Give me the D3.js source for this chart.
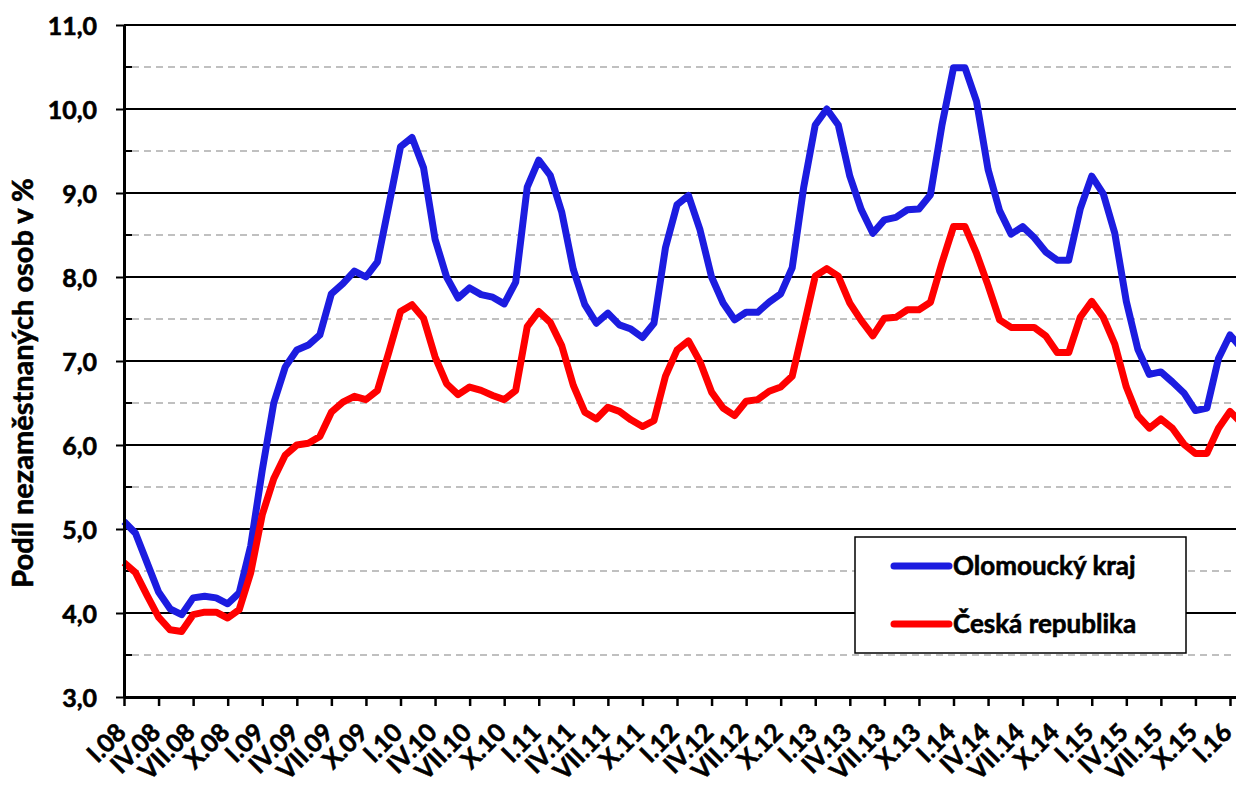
<!DOCTYPE html>
<html><head><meta charset="utf-8">
<script src="https://cdn.jsdelivr.net/npm/d3@7"></script>
<style>
body{margin:0;background:#fff;}
svg{display:block;}
text{font-family:Lato,"Open Sans",sans-serif;font-weight:bold;fill:#000;stroke:#000;stroke-width:0.6px;}
</style></head><body>
<svg id="c" width="1236" height="785"></svg>
<script>
// ---- DATA ----
const months = [
 "I.08","II.08","III.08","IV.08","V.08","VI.08","VII.08","VIII.08","IX.08","X.08","XI.08","XII.08",
 "I.09","II.09","III.09","IV.09","V.09","VI.09","VII.09","VIII.09","IX.09","X.09","XI.09","XII.09",
 "I.10","II.10","III.10","IV.10","V.10","VI.10","VII.10","VIII.10","IX.10","X.10","XI.10","XII.10",
 "I.11","II.11","III.11","IV.11","V.11","VI.11","VII.11","VIII.11","IX.11","X.11","XI.11","XII.11",
 "I.12","II.12","III.12","IV.12","V.12","VI.12","VII.12","VIII.12","IX.12","X.12","XI.12","XII.12",
 "I.13","II.13","III.13","IV.13","V.13","VI.13","VII.13","VIII.13","IX.13","X.13","XI.13","XII.13",
 "I.14","II.14","III.14","IV.14","V.14","VI.14","VII.14","VIII.14","IX.14","X.14","XI.14","XII.14",
 "I.15","II.15","III.15","IV.15","V.15","VI.15","VII.15","VIII.15","IX.15","X.15","XI.15","XII.15",
 "I.16","II.16"
];
const tickLabels = [
 "I.08","IV.08","VII.08","X.08","I.09","IV.09","VII.09","X.09","I.10","IV.10","VII.10","X.10",
 "I.11","IV.11","VII.11","X.11","I.12","IV.12","VII.12","X.12","I.13","IV.13","VII.13","X.13",
 "I.14","IV.14","VII.14","X.14","I.15","IV.15","VII.15","X.15","I.16"
];
const olomouckyKraj = [
 5.09,4.95,4.60,4.25,4.05,3.98,4.18,4.20,4.18,4.11,4.24,4.80,
 5.70,6.50,6.93,7.13,7.19,7.31,7.80,7.92,8.07,8.00,8.18,8.86,
 9.55,9.66,9.30,8.45,8.00,7.75,7.87,7.79,7.76,7.68,7.94,9.07,
 9.39,9.21,8.77,8.09,7.67,7.45,7.57,7.43,7.38,7.28,7.45,8.35,
 8.86,8.97,8.56,8.00,7.69,7.49,7.58,7.58,7.70,7.80,8.11,9.07,
 9.81,10.00,9.81,9.20,8.80,8.52,8.68,8.71,8.80,8.81,8.98,9.81,
 10.49,10.49,10.09,9.28,8.79,8.51,8.60,8.47,8.30,8.20,8.20,8.81,
 9.20,8.99,8.52,7.71,7.14,6.84,6.87,6.75,6.62,6.41,6.44,7.03,
 7.31,7.15
];
const ceskaRepublika = [
 4.60,4.48,4.21,3.95,3.80,3.78,3.98,4.01,4.01,3.94,4.04,4.48,
 5.17,5.60,5.88,6.00,6.02,6.10,6.39,6.51,6.58,6.54,6.65,7.11,
 7.59,7.67,7.51,7.05,6.73,6.60,6.69,6.65,6.59,6.54,6.65,7.41,
 7.59,7.46,7.18,6.71,6.39,6.31,6.45,6.40,6.30,6.22,6.29,6.82,
 7.13,7.24,6.99,6.63,6.44,6.35,6.52,6.54,6.64,6.69,6.82,7.41,
 8.01,8.10,8.01,7.69,7.48,7.30,7.51,7.52,7.61,7.61,7.70,8.17,
 8.60,8.60,8.28,7.90,7.49,7.40,7.40,7.40,7.30,7.10,7.10,7.52,
 7.71,7.52,7.20,6.69,6.35,6.20,6.31,6.20,6.01,5.90,5.90,6.20,
 6.40,6.26
];
const yMajor = [3,4,5,6,7,8,9,10,11];
const yMinor = [3.5,4.5,5.5,6.5,7.5,8.5,9.5,10.5];
const seriesNames = ["Olomoucký kraj","Česká republika"];
const seriesColors = ["#1c1ce0","#ff0000"];
const yTitle = "Podíl nezaměstnaných osob v %";

// ---- LAYOUT ----
const W = 1236, H = 785;
const L = 124, T = 25, B = 697;
const step = (1230 - L) / 96;
const svg = d3.select("#c");
svg.append("rect").attr("width",W).attr("height",H).attr("fill","#fff");

const x = d3.scalePoint().domain(months).range([L, L + step*(months.length-1)]);
const y = d3.scaleLinear().domain([3,11]).range([B, T]);

// gridlines
svg.append("g").selectAll("line").data(yMinor).join("line")
  .attr("x1",132).attr("x2",W).attr("y1",d=>y(d)).attr("y2",d=>y(d))
  .attr("stroke","#c0c0c0").attr("stroke-width",2).attr("stroke-dasharray","7,5");
svg.append("g").selectAll("line").data(yMinor).join("line")
  .attr("x1",L).attr("x2",132).attr("y1",d=>y(d)).attr("y2",d=>y(d))
  .attr("stroke","#000").attr("stroke-width",2);
svg.append("g").selectAll("line").data(yMajor.filter(d=>d>3)).join("line")
  .attr("x1",L).attr("x2",W).attr("y1",d=>y(d)).attr("y2",d=>y(d))
  .attr("stroke","#000").attr("stroke-width",2);

// lines
const line = d3.line().x((d,i)=>x(months[i])).y(d=>y(d));
[olomouckyKraj, ceskaRepublika].forEach((s,k)=>{
  svg.append("path").datum(s).attr("d",line).attr("fill","none")
    .attr("stroke",seriesColors[k]).attr("stroke-width",7)
    .attr("stroke-linejoin","round");
});

// y axis
const ya = svg.append("g").attr("transform",`translate(${L},0)`)
  .call(d3.axisLeft(y).tickValues(yMajor).tickSize(8).tickSizeOuter(0).tickPadding(19)
    .tickFormat(d=>d3.format(".1f")(d).replace(".",",")));
ya.select(".domain").attr("stroke","#000").attr("stroke-width",3);
ya.selectAll(".tick line").attr("stroke","#000").attr("stroke-width",2);
ya.selectAll(".tick text").attr("font-size",25).attr("font-family","Lato").attr("font-weight","bold")
  .attr("fill","#000").attr("dy","0.36em");

// x axis
const xa = svg.append("g").attr("transform",`translate(0,${B})`)
  .call(d3.axisBottom(x).tickValues(tickLabels).tickSize(9).tickSizeOuter(0));
xa.select(".domain").attr("stroke","#000").attr("stroke-width",3);
xa.selectAll(".tick line").attr("stroke","#000").attr("stroke-width",2.5);
xa.selectAll(".tick text").attr("font-size",25).attr("font-family","Lato").attr("font-weight","bold")
  .attr("fill","#000").attr("x",0).attr("y",0).attr("dy",0).attr("text-anchor","end")
  .attr("transform","translate(3,37) rotate(-45)");

// y title
svg.append("text").attr("transform","translate(33,383) rotate(-90)")
  .attr("text-anchor","middle").attr("font-size",29).text(yTitle);

// legend
const lg = svg.append("g");
lg.append("rect").attr("x",855).attr("y",537).attr("width",331).attr("height",116)
  .attr("fill","#fff").attr("stroke","#000").attr("stroke-width",1.5);
seriesNames.forEach((n,k)=>{
  const yy = 566 + k*58;
  lg.append("line").attr("x1",894).attr("x2",949).attr("y1",yy).attr("y2",yy)
    .attr("stroke",seriesColors[k]).attr("stroke-width",7).attr("stroke-linecap","round");
  lg.append("text").attr("x",953).attr("y",yy+9).attr("font-size",26).text(n);
});
</script>
</body></html>
